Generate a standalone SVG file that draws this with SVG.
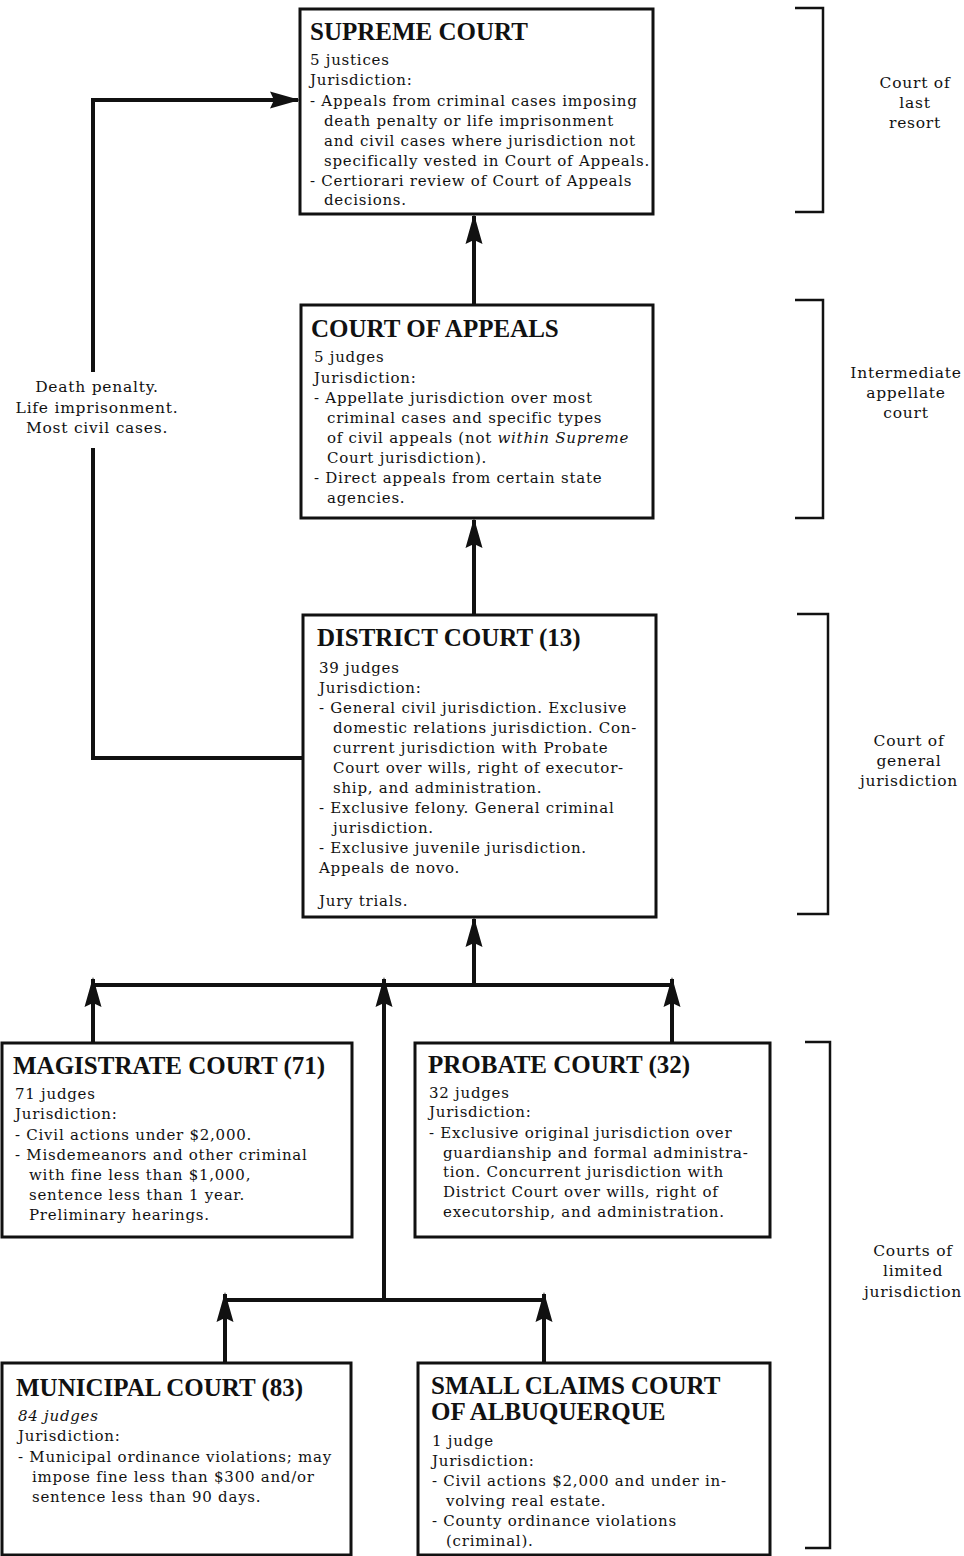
<svg xmlns="http://www.w3.org/2000/svg" width="964" height="1556" viewBox="0 0 964 1556">
<style>
.box{fill:#fff;stroke:#111;stroke-width:3}
.title{font-family:"Liberation Serif",serif;font-weight:bold;font-size:25px;fill:#111}
.body{font-family:"DejaVu Serif",serif;font-size:15px;letter-spacing:0.75px;fill:#111}
.side{font-family:"DejaVu Serif",serif;font-size:15.5px;letter-spacing:0.75px;fill:#111;text-anchor:middle}
.it{font-style:italic}
.conn{fill:none;stroke:#111;stroke-width:4}
.br{fill:none;stroke:#111;stroke-width:2.5}
</style>
<defs>
<marker id="ah" markerUnits="userSpaceOnUse" markerWidth="30" markerHeight="20" viewBox="0 0 30 20" refX="28" refY="10" orient="auto">
<path d="M0,1.5 L30,10 L0,18.5 L4,10 Z" fill="#111"/>
</marker>
</defs>
<rect width="964" height="1556" fill="#fff"/>

<g id="connectors">
<line class="conn" x1="474" y1="305" x2="474" y2="216" marker-end="url(#ah)"/>
<line class="conn" x1="474" y1="615" x2="474" y2="520" marker-end="url(#ah)"/>
<polyline class="conn" points="303,758 93,758 93,448"/>
<polyline class="conn" points="93,372 93,100 298,100" marker-end="url(#ah)"/>
<line class="conn" x1="474" y1="985" x2="474" y2="919" marker-end="url(#ah)"/>
<line class="conn" x1="93" y1="985" x2="672" y2="985"/>
<line class="conn" x1="93" y1="1043" x2="93" y2="979" marker-end="url(#ah)"/>
<line class="conn" x1="672" y1="1043" x2="672" y2="979" marker-end="url(#ah)"/>
<line class="conn" x1="384" y1="1300" x2="384" y2="979" marker-end="url(#ah)"/>
<line class="conn" x1="225" y1="1300" x2="544" y2="1300"/>
<line class="conn" x1="225" y1="1363" x2="225" y2="1294" marker-end="url(#ah)"/>
<line class="conn" x1="544" y1="1363" x2="544" y2="1294" marker-end="url(#ah)"/>
<text class="side" x="97" y="392">Death penalty.</text>
<text class="side" x="97" y="413">Life imprisonment.</text>
<text class="side" x="97" y="433">Most civil cases.</text>
</g>

<g id="supreme">
<rect class="box" x="300" y="9" width="353" height="205"/>
<text class="title" x="310" y="40">SUPREME COURT</text>
<text class="body" x="310" y="65">5 justices</text>
<text class="body" x="310" y="85">Jurisdiction:</text>
<text class="body" x="310" y="106">- Appeals from criminal cases imposing</text>
<text class="body" x="324" y="126">death penalty or life imprisonment</text>
<text class="body" x="324" y="146">and civil cases where jurisdiction not</text>
<text class="body" x="324" y="166">specifically vested in Court of Appeals.</text>
<text class="body" x="310" y="186">- Certiorari review of Court of Appeals</text>
<text class="body" x="324" y="205">decisions.</text>
</g>

<g id="appeals">
<rect class="box" x="301" y="305" width="352" height="213"/>
<text class="title" x="311" y="337">COURT OF APPEALS</text>
<text class="body" x="314" y="362">5 judges</text>
<text class="body" x="314" y="383">Jurisdiction:</text>
<text class="body" x="314" y="403">- Appellate jurisdiction over most</text>
<text class="body" x="327" y="423">criminal cases and specific types</text>
<text class="body" x="327" y="443">of civil appeals (not <tspan class="it">within Supreme</tspan></text>
<text class="body" x="327" y="463">Court jurisdiction).</text>
<text class="body" x="314" y="483">- Direct appeals from certain state</text>
<text class="body" x="327" y="503">agencies.</text>
</g>

<g id="district">
<rect class="box" x="303" y="615" width="353" height="302"/>
<text class="title" x="317" y="646">DISTRICT COURT (13)</text>
<text class="body" x="319" y="673">39 judges</text>
<text class="body" x="319" y="693">Jurisdiction:</text>
<text class="body" x="319" y="713">- General civil jurisdiction. Exclusive</text>
<text class="body" x="333" y="733">domestic relations jurisdiction. Con-</text>
<text class="body" x="333" y="753">current jurisdiction with Probate</text>
<text class="body" x="333" y="773">Court over wills, right of executor-</text>
<text class="body" x="333" y="793">ship, and administration.</text>
<text class="body" x="319" y="813">- Exclusive felony. General criminal</text>
<text class="body" x="333" y="833">jurisdiction.</text>
<text class="body" x="319" y="853">- Exclusive juvenile jurisdiction.</text>
<text class="body" x="319" y="873">Appeals de novo.</text>
<text class="body" x="319" y="906">Jury trials.</text>
</g>

<g id="magistrate">
<rect class="box" x="2" y="1043" width="350" height="194"/>
<text class="title" x="13" y="1074">MAGISTRATE COURT (71)</text>
<text class="body" x="15" y="1099">71 judges</text>
<text class="body" x="15" y="1119">Jurisdiction:</text>
<text class="body" x="15" y="1140">- Civil actions under $2,000.</text>
<text class="body" x="15" y="1160">- Misdemeanors and other criminal</text>
<text class="body" x="29" y="1180">with fine less than $1,000,</text>
<text class="body" x="29" y="1200">sentence less than 1 year.</text>
<text class="body" x="29" y="1220">Preliminary hearings.</text>
</g>

<g id="probate">
<rect class="box" x="415" y="1043" width="355" height="194"/>
<text class="title" x="428" y="1073">PROBATE COURT (32)</text>
<text class="body" x="429" y="1098">32 judges</text>
<text class="body" x="429" y="1117">Jurisdiction:</text>
<text class="body" x="429" y="1138">- Exclusive original jurisdiction over</text>
<text class="body" x="443" y="1158">guardianship and formal administra-</text>
<text class="body" x="443" y="1177">tion. Concurrent jurisdiction with</text>
<text class="body" x="443" y="1197">District Court over wills, right of</text>
<text class="body" x="443" y="1217">executorship, and administration.</text>
</g>

<g id="municipal">
<rect class="box" x="2" y="1363" width="349" height="192"/>
<text class="title" x="16" y="1396">MUNICIPAL COURT (83)</text>
<text class="body it" x="18" y="1421">84 judges</text>
<text class="body" x="18" y="1441">Jurisdiction:</text>
<text class="body" x="18" y="1462">- Municipal ordinance violations; may</text>
<text class="body" x="32" y="1482">impose fine less than $300 and/or</text>
<text class="body" x="32" y="1502">sentence less than 90 days.</text>
</g>

<g id="smallclaims">
<rect class="box" x="418" y="1363" width="352" height="192"/>
<text class="title" x="431" y="1394">SMALL CLAIMS COURT</text>
<text class="title" x="431" y="1420">OF ALBUQUERQUE</text>
<text class="body" x="432" y="1446">1 judge</text>
<text class="body" x="432" y="1466">Jurisdiction:</text>
<text class="body" x="432" y="1486">- Civil actions $2,000 and under in-</text>
<text class="body" x="446" y="1506">volving real estate.</text>
<text class="body" x="432" y="1526">- County ordinance violations</text>
<text class="body" x="446" y="1546">(criminal).</text>
</g>

<g id="brackets">
<polyline class="br" points="795,8 823,8 823,212 795,212"/>
<polyline class="br" points="795,300 823,300 823,518 795,518"/>
<polyline class="br" points="797,614 828,614 828,914 797,914"/>
<polyline class="br" points="805,1042 830,1042 830,1548 805,1548"/>
<text class="side" x="915" y="88">Court of</text>
<text class="side" x="915" y="108">last</text>
<text class="side" x="915" y="128">resort</text>
<text class="side" x="906" y="378">Intermediate</text>
<text class="side" x="906" y="398">appellate</text>
<text class="side" x="906" y="418">court</text>
<text class="side" x="909" y="746">Court of</text>
<text class="side" x="909" y="766">general</text>
<text class="side" x="909" y="786">jurisdiction</text>
<text class="side" x="913" y="1256">Courts of</text>
<text class="side" x="913" y="1276">limited</text>
<text class="side" x="913" y="1297">jurisdiction</text>
</g>
</svg>
